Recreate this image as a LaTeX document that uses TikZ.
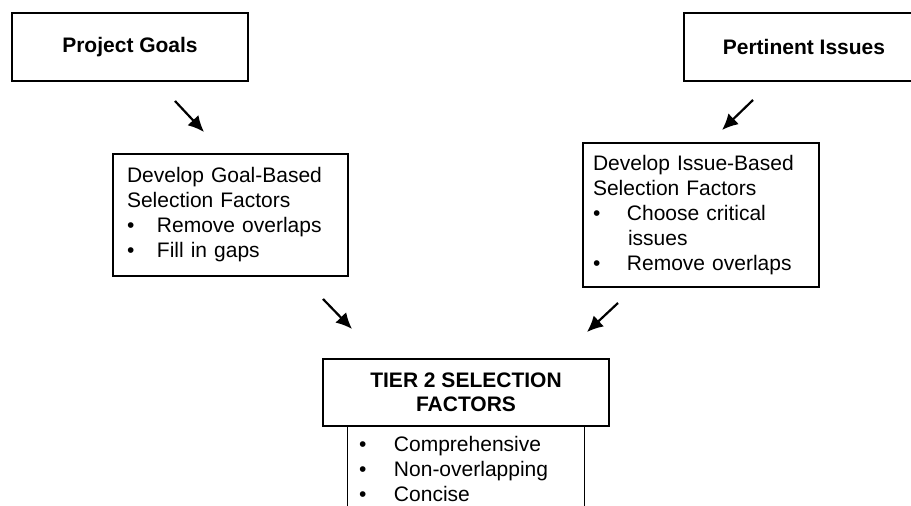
\documentclass[tikz,border=0pt]{standalone}
\usepackage{fontspec}
\setmainfont{Liberation Sans}
\usetikzlibrary{arrows.meta,positioning}
\newcommand{\itm}[1][15pt]{\makebox[#1][l]{\textbullet}}

\begin{document}
\begin{tikzpicture}[x=0.5pt,y=-0.5pt,>={Latex[length=8pt,width=7.5pt]},
    font=\fontsize{10.5pt}{12.5pt}\selectfont]
  \tikzset{box/.style={draw,rectangle,line width=0.7pt,inner ysep=0pt},
    head/.style={box,font=\fontsize{10.5pt}{12pt}\selectfont\bfseries},
    list/.style={rectangle,text width=107pt,inner xsep=5.5pt,inner ysep=4.5pt,align=left}}
  \clip (0,0) rectangle (911,506);
  \node[head,minimum width=118pt,minimum height=34pt] (goals) at (130,47) {Project Goals};
  \node[head,minimum width=120pt,minimum height=34pt] (issues) at (804,47) {Pertinent Issues};
  \node[box,text width=103.5pt,inner xsep=7pt,minimum height=61pt,align=left] (goalf) at (230.5,215)
    {Develop Goal-Based\\Selection Factors\\\itm Remove overlaps\\\itm Fill in gaps};
  \node[box,text width=108pt,inner xsep=5pt,minimum height=72pt,align=left] (issuef) at (701,215)
    {Develop Issue-Based\\Selection Factors\\\itm[17pt]Choose critical\\\hspace*{17.5pt}issues\\\itm[17pt]Remove overlaps};
  \node[head,minimum width=143pt,minimum height=33.5pt,align=center] (tier) at (466,392.5)
    {TIER 2 SELECTION\\FACTORS};
  \node[list,below=0pt of tier] (props)
    {\itm[17.5pt]Comprehensive\\\itm[17.5pt]Non-overlapping\\\itm[17.5pt]Concise};
  \draw[line width=0.7pt] (props.north west) -- (props.south west)
    (props.north east) -- (props.south east);
  % short arrows between the boxes
  \coordinate (g1) at (175,101); \coordinate (g2) at (204,132);
  \coordinate (i1) at (753,100); \coordinate (i2) at (722,130);
  \coordinate (g3) at (323,299); \coordinate (g4) at (352,329);
  \coordinate (i3) at (618,303); \coordinate (i4) at (587,332);
  \path[->,line width=1.1pt]
    (g1) edge (g2)
    (i1) edge (i2)
    (g3) edge (g4)
    (i3) edge (i4);
\end{tikzpicture}
\end{document}
